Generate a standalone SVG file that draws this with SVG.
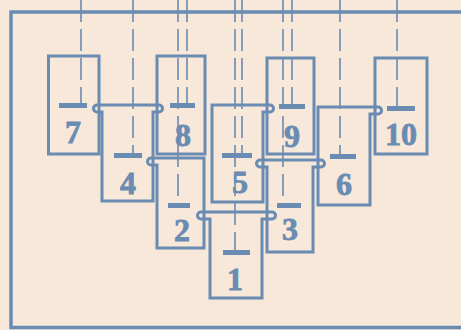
<svg xmlns="http://www.w3.org/2000/svg" width="461" height="330" viewBox="0 0 461 330">
<style>
.box{fill:none;stroke:#6a8bb2;stroke-width:3;stroke-linejoin:miter}
.frame{fill:none;stroke:#6a8bb2;stroke-width:3.5}
.axis{stroke:#6a8bb2;stroke-width:1.6;stroke-dasharray:22 7;fill:none}
.mark{fill:#6a8bb2}
.num{font-family:"Liberation Serif","Times New Roman",serif;font-weight:bold;font-size:32px;fill:#6a8bb2;stroke:#6a8bb2;stroke-width:0.8;text-anchor:middle}
</style>
<rect width="461" height="330" fill="#f7e8da"/>
<path class="frame" d="M461,12 H11 V327.5 H461"/>
<g id="connectors">
<line class="axis" x1="81" y1="0" x2="81" y2="105"/>
<line class="axis" x1="133" y1="0" x2="133" y2="155"/>
<line class="axis" x1="178" y1="0" x2="178" y2="205"/>
<line class="axis" x1="187" y1="0" x2="187" y2="105"/>
<line class="axis" x1="235" y1="0" x2="235" y2="252"/>
<line class="axis" x1="242" y1="0" x2="242" y2="155"/>
<line class="axis" x1="283" y1="0" x2="283" y2="205"/>
<line class="axis" x1="292" y1="0" x2="292" y2="107"/>
<line class="axis" x1="340" y1="0" x2="340" y2="156"/>
<line class="axis" x1="397" y1="0" x2="397" y2="108"/>
</g>
<g id="pin7"><rect class="box" x="48.5" y="56" width="50.5" height="98"/><rect class="mark" x="59" y="103" width="28" height="5"/><text class="num" x="73" y="143">7</text></g>
<g id="pin8"><rect class="box" x="157" y="56" width="48" height="98"/><rect class="mark" x="170" y="103" width="25" height="5"/><text class="num" x="183" y="146">8</text></g>
<g id="pin9"><rect class="box" x="267" y="58" width="47" height="96"/><rect class="mark" x="279" y="104" width="26" height="5"/><text class="num" x="292" y="147">9</text></g>
<g id="pin10"><rect class="box" x="375" y="58" width="52" height="96"/><rect class="mark" x="387" y="106" width="28" height="5"/><text class="num" x="401" y="145">10</text></g>
<g id="pin4"><path class="box" d="M102,201 V112 H97 A3.5,3.5 0 0 1 97,105 H159 A3.5,3.5 0 0 1 159,112 H153 V201 Z"/><rect class="mark" x="114" y="153" width="28" height="5"/><text class="num" x="128" y="194">4</text></g>
<g id="pin5"><path class="box" d="M212,202 V105 H270 A3.5,3.5 0 0 1 270,112 H263 V202 Z"/><rect class="mark" x="222" y="153" width="30" height="5"/><text class="num" x="240" y="193">5</text></g>
<g id="pin6"><path class="box" d="M318,205 V107 H378 A3.5,3.5 0 0 1 378,114 H370 V205 Z"/><rect class="mark" x="330" y="154" width="26" height="5"/><text class="num" x="344" y="195">6</text></g>
<g id="pin2"><path class="box" d="M157,248 V165 H151 A3.5,3.5 0 0 1 151,158 H204 V248 Z"/><rect class="mark" x="168" y="203" width="22" height="5"/><text class="num" x="182" y="241">2</text></g>
<g id="pin3"><path class="box" d="M267,252 V167 H260 A3.5,3.5 0 0 1 260,160 H321 A3.5,3.5 0 0 1 321,167 H313 V252 Z"/><rect class="mark" x="277" y="203" width="24" height="5"/><text class="num" x="290" y="240">3</text></g>
<g id="pin1"><path class="box" d="M210,298 V219 H201 A3.5,3.5 0 0 1 201,212 H272 A3.5,3.5 0 0 1 272,219 H262 V298 Z"/><rect class="mark" x="223" y="250" width="27" height="5"/><text class="num" x="235" y="290">1</text></g>
</svg>
